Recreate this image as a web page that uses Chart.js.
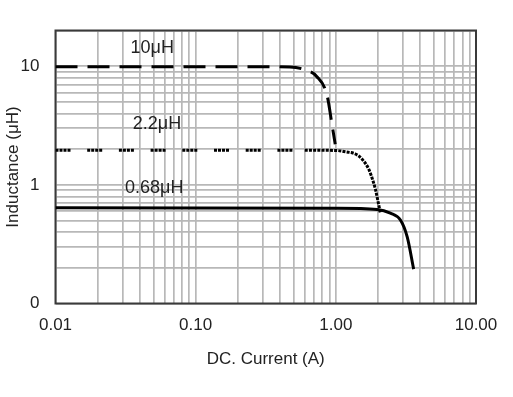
<!DOCTYPE html>
<html>
<head>
<meta charset="utf-8">
<script src="https://cdn.jsdelivr.net/npm/chart.js@4"></script>
<style>
  html, body { margin: 0; padding: 0; background: #fff; }
  #wrap { width: 513px; height: 397px; position: relative; }
</style>
</head>
<body>
<div id="wrap"><canvas id="inductanceChart"></canvas></div>
<script>
// Curvas (corrente em A, indutância em µH)
const seriesNames = ['10μH', '2.2μH', '0.68μH'];

const current10 = [0.01, 0.1, 0.3, 0.47, 0.6, 0.73, 0.865, 0.94, 0.99];
const induct10 = [9.9, 9.9, 9.9, 9.85, 9.35, 8.2, 5.7, 3.2, 2.2];

const current22 = [0.01, 0.6, 1.0, 1.17, 1.38, 1.54, 1.72, 1.86, 1.92, 2.0, 2.08];
const induct22 = [1.96, 1.96, 1.95, 1.9, 1.82, 1.645, 1.35, 1.04, 0.91, 0.724, 0.577];

const current068 = [0.01, 1.0, 1.97, 2.45, 2.89, 3.23, 3.59];
const induct068 = [0.64, 0.635, 0.62, 0.577, 0.505, 0.364, 0.195];

// Eixos
const xGridValues = [0.01, 0.02, 0.03, 0.04, 0.05, 0.06, 0.07, 0.08, 0.09,
  0.1, 0.2, 0.3, 0.4, 0.5, 0.6, 0.7, 0.8, 0.9,
  1, 2, 3, 4, 5, 6, 7, 8, 9, 10];
const xLabelValues = [0.01, 0.1, 1, 10];
const xLabelTexts = ['0.01', '0.10', '1.00', '10.00'];

const yGridValues = [0.1, 0.2, 0.3, 0.4, 0.5, 0.6, 0.7, 0.8, 0.9,
  1, 2, 3, 4, 5, 6, 7, 8, 9, 10, 20];
const yLabelValues = [0.1, 1, 10];
const yLabelTexts = ['0', '1', '10'];

// onde escrever o nome de cada curva (coordenadas de dados)
const labelAnchors = [[0.049, 14.3], [0.053, 3.27], [0.0506, 0.948]];

const toPoints = (xs, ys) => xs.map((x, i) => ({ x: x, y: ys[i] }));

const frameAndLabels = {
  id: 'frameAndLabels',
  beforeDatasetsDraw(chart) {
    const { ctx, chartArea: a } = chart;
    ctx.save();
    ctx.strokeStyle = '#3a3a3a';
    ctx.lineWidth = 2;
    ctx.strokeRect(a.left, a.top, a.right - a.left, a.bottom - a.top);
    ctx.restore();
  },
  afterDatasetsDraw(chart) {
    const { ctx, scales } = chart;
    ctx.save();
    ctx.fillStyle = '#222';
    ctx.font = '18px "Liberation Sans", Arial, sans-serif';
    ctx.textAlign = 'center';
    ctx.textBaseline = 'middle';
    seriesNames.forEach((name, i) => {
      const px = scales.x.getPixelForValue(labelAnchors[i][0]);
      const py = scales.y.getPixelForValue(labelAnchors[i][1]);
      ctx.fillText(name, px, py);
    });
    ctx.restore();
  }
};

document.addEventListener('DOMContentLoaded', () => {
  Chart.defaults.font.family = '"Liberation Sans", Arial, sans-serif';
  Chart.defaults.color = '#222';

  const ctx = document.getElementById('inductanceChart').getContext('2d');
  new Chart(ctx, {
    type: 'line',
    data: {
      datasets: [
        {
          label: seriesNames[0],
          data: toPoints(current10, induct10),
          borderColor: '#000',
          borderWidth: 3,
          borderDash: [22, 10],
          pointRadius: 0,
          cubicInterpolationMode: 'monotone',
          fill: false
        },
        {
          label: seriesNames[1],
          data: toPoints(current22, induct22),
          borderColor: '#000',
          borderWidth: 3,
          borderDash: [3, 1, 3, 1, 3, 1, 3, 16.7],
          pointRadius: 0,
          cubicInterpolationMode: 'monotone',
          fill: false,
          segment: {
            borderDash: c => (c.p0.parsed.x >= 0.6 ? [3, 1.2] : undefined)
          }
        },
        {
          label: seriesNames[2],
          data: toPoints(current068, induct068),
          borderColor: '#000',
          borderWidth: 3,
          pointRadius: 0,
          cubicInterpolationMode: 'monotone',
          fill: false
        }
      ]
    },
    options: {
      responsive: true,
      maintainAspectRatio: false,
      animation: false,
      layout: { padding: { left: 0, right: 37, top: 30.5, bottom: 0 } },
      plugins: {
        legend: { display: false },
        tooltip: { enabled: false }
      },
      scales: {
        x: {
          type: 'logarithmic',
          min: 0.01,
          max: 10,
          afterBuildTicks: s => { s.ticks = xGridValues.map(v => ({ value: v })); },
          afterFit: s => { s.height = 93.5; },
          grid: { color: '#b8b8b8', lineWidth: 1.7, drawTicks: false },
          border: { display: false },
          ticks: {
            autoSkip: false,
            maxRotation: 0,
            padding: 12,
            font: { size: 17 },
            callback: v => {
              const i = xLabelValues.indexOf(v);
              return i >= 0 ? xLabelTexts[i] : '';
            }
          },
          title: {
            display: true,
            text: 'DC. Current (A)',
            font: { size: 17 },
            padding: { top: 0, bottom: 27 }
          }
        },
        y: {
          type: 'logarithmic',
          min: 0.1,
          max: 20,
          afterBuildTicks: s => { s.ticks = yGridValues.map(v => ({ value: v })); },
          afterFit: s => { s.width = 55.5; },
          grid: { color: '#b8b8b8', lineWidth: 1.7, drawTicks: false },
          border: { display: false },
          ticks: {
            autoSkip: false,
            padding: 16,
            font: { size: 17 },
            callback: v => {
              const i = yLabelValues.indexOf(v);
              return i >= 0 ? yLabelTexts[i] : '';
            }
          },
          title: {
            display: true,
            text: 'Inductance (μH)',
            font: { size: 17 },
            padding: { top: 3, bottom: 0 }
          }
        }
      }
    },
    plugins: [frameAndLabels]
  });
});
</script>
</body>
</html>
